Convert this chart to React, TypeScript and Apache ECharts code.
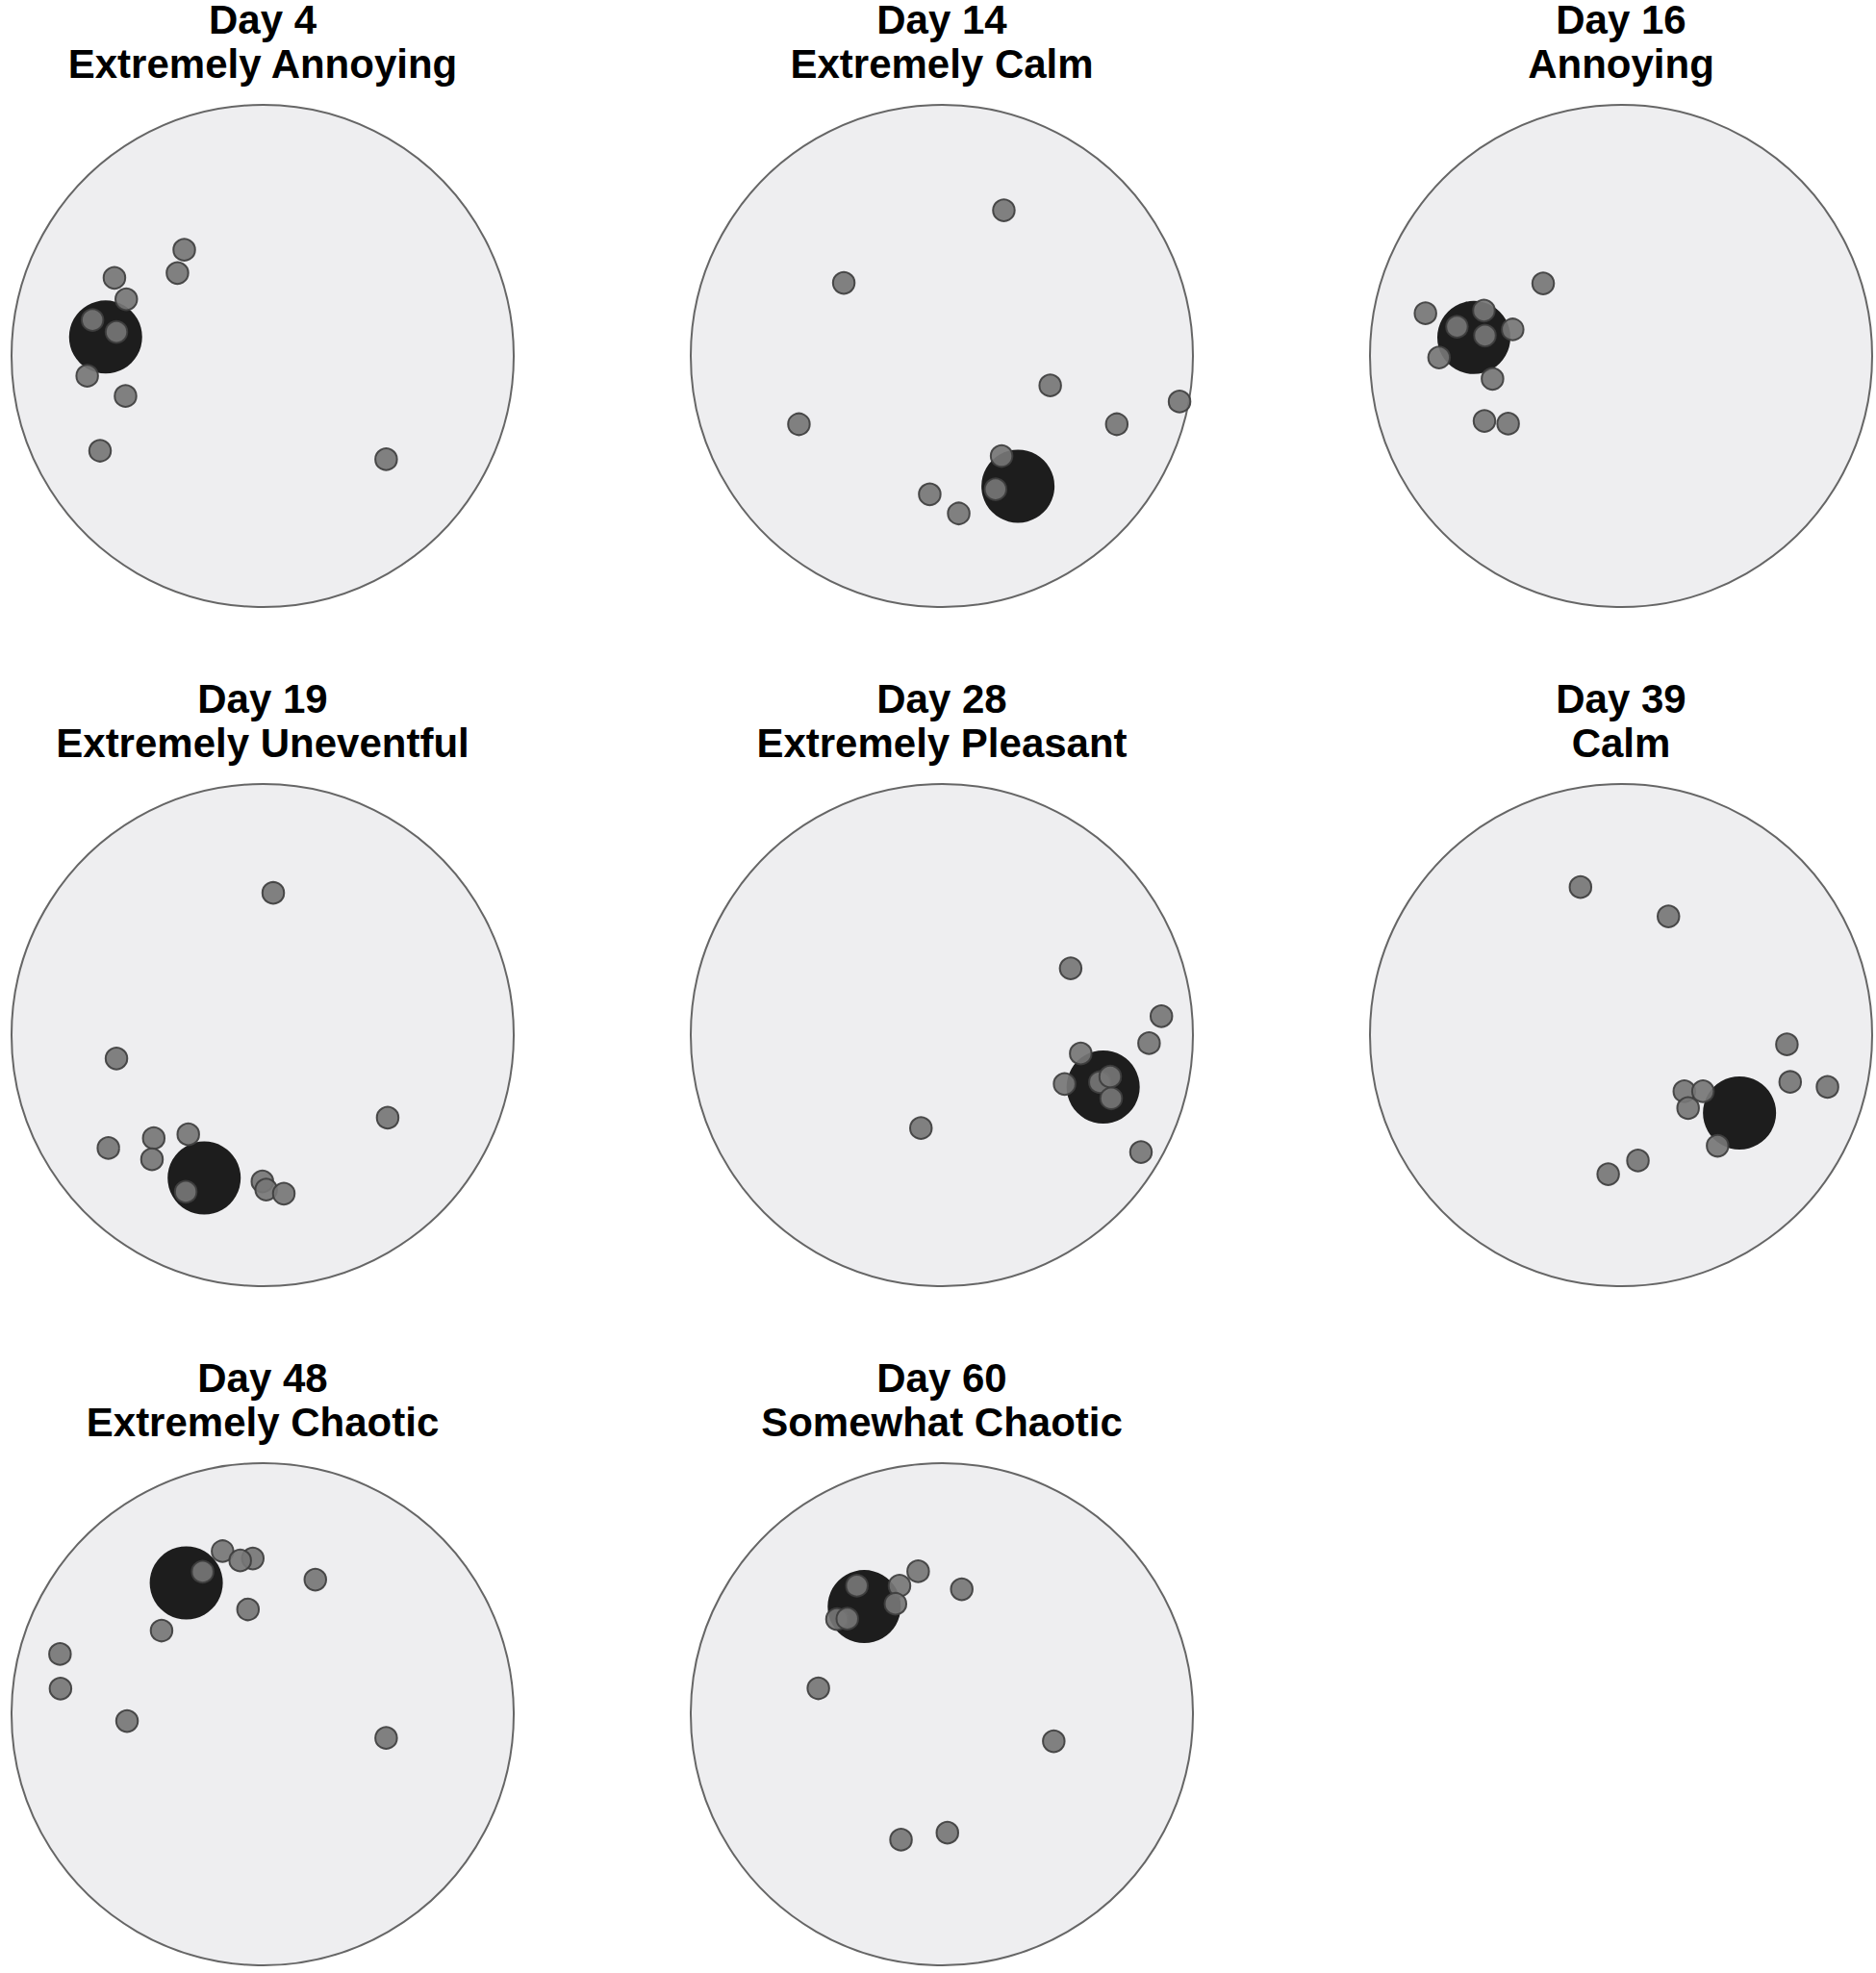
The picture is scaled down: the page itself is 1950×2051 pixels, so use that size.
import React, { useEffect, useRef } from "react";
import * as echarts from "echarts";

// ---- Data (normalized coordinates inside each unit circle: x right, y up) ----
const dayLabels = ["Day 4", "Day 14", "Day 16", "Day 19", "Day 28", "Day 39", "Day 48", "Day 60"];
const moodLabels = [
  "Extremely Annoying",
  "Extremely Calm",
  "Annoying",
  "Extremely Uneventful",
  "Extremely Pleasant",
  "Calm",
  "Extremely Chaotic",
  "Somewhat Chaotic",
];

// Large dark dot per panel (group centroid)
const centroids: [number, number][] = [
  [-0.623, 0.075],
  [0.302, -0.517],
  [-0.584, 0.073],
  [-0.232, -0.567],
  [0.64, -0.206],
  [0.47, -0.309],
  [-0.303, 0.521],
  [-0.308, 0.427],
];

const day4Points: [number, number][] = [
  [-0.588, 0.31], [-0.541, 0.225], [-0.675, 0.143], [-0.58, 0.095], [-0.696, -0.079],
  [-0.544, -0.159], [-0.645, -0.376], [-0.311, 0.421], [-0.338, 0.329], [0.49, -0.41],
];
const day14Points: [number, number][] = [
  [0.246, 0.578], [-0.389, 0.29], [0.43, -0.117], [0.943, -0.181], [-0.567, -0.271],
  [0.694, -0.271], [0.237, -0.397], [0.213, -0.529], [-0.048, -0.549], [0.067, -0.625],
];
const day16Points: [number, number][] = [
  [-0.309, 0.288], [-0.776, 0.169], [-0.544, 0.18], [-0.651, 0.116], [-0.54, 0.081],
  [-0.43, 0.105], [-0.722, -0.006], [-0.51, -0.091], [-0.542, -0.258], [-0.448, -0.269],
];
const day19Points: [number, number][] = [
  [0.042, 0.564], [-0.58, -0.093], [0.496, -0.328], [-0.432, -0.409], [-0.295, -0.394],
  [-0.612, -0.448], [-0.439, -0.493], [-0.305, -0.622], [-0.001, -0.581], [0.014, -0.613],
  [0.084, -0.629],
];
const day28Points: [number, number][] = [
  [0.511, 0.265], [0.871, 0.075], [0.822, -0.032], [0.551, -0.073], [0.487, -0.194],
  [0.627, -0.187], [0.668, -0.165], [0.672, -0.251], [-0.083, -0.369], [0.79, -0.464],
];
const day39Points: [number, number][] = [
  [-0.161, 0.587], [0.188, 0.471], [0.658, -0.037], [0.671, -0.186], [0.819, -0.206],
  [0.251, -0.223], [0.325, -0.223], [0.266, -0.29], [0.383, -0.439], [0.067, -0.498],
  [-0.051, -0.552],
];
const day48Points: [number, number][] = [
  [-0.238, 0.565], [-0.159, 0.647], [-0.039, 0.618], [-0.089, 0.61], [0.209, 0.534],
  [-0.058, 0.416], [-0.401, 0.332], [-0.804, 0.239], [-0.802, 0.102], [-0.538, -0.027],
  [0.49, -0.094],
];
const day60Points: [number, number][] = [
  [-0.337, 0.51], [-0.168, 0.51], [-0.094, 0.567], [-0.184, 0.438], [-0.416, 0.377],
  [-0.375, 0.379], [0.079, 0.496], [-0.49, 0.103], [0.444, -0.107], [-0.162, -0.498],
  [0.022, -0.47],
];

const panelPoints = [
  day4Points, day14Points, day16Points, day19Points,
  day28Points, day39Points, day48Points, day60Points,
];

// ---- Layout ----
const WIDTH = 1950;
const HEIGHT = 2051;
const COL_X = [273, 979, 1685];
const ROW_Y = [370, 1076, 1782];
const R = 262;
const FONT = '"Liberation Sans", Arial, Helvetica, sans-serif';

export default function App() {
  const ref = useRef<HTMLDivElement>(null);

  useEffect(() => {
    if (!ref.current) return;
    const chart = echarts.init(ref.current, undefined, { renderer: "svg" });

    const grids: any[] = [];
    const xAxes: any[] = [];
    const yAxes: any[] = [];
    const series: any[] = [];
    const graphics: any[] = [];

    dayLabels.forEach((day, i) => {
      const cx = COL_X[i % 3];
      const cy = ROW_Y[Math.floor(i / 3)];
      grids.push({ left: cx - R, top: cy - R, width: 2 * R, height: 2 * R, containLabel: false });
      xAxes.push({ type: "value", gridIndex: i, min: -1, max: 1, show: false });
      yAxes.push({ type: "value", gridIndex: i, min: -1, max: 1, show: false });

      series.push({
        type: "scatter",
        name: `${day} arena`,
        xAxisIndex: i,
        yAxisIndex: i,
        data: [[0, 0]],
        symbol: "circle",
        symbolSize: 2 * R - 2,
        silent: true,
        z: 1,
        itemStyle: { color: "#eeeef0", opacity: 1, borderColor: "#666666", borderWidth: 2 },
      });
      series.push({
        type: "scatter",
        name: `${day} centroid`,
        xAxisIndex: i,
        yAxisIndex: i,
        data: [centroids[i]],
        symbol: "circle",
        symbolSize: 76,
        z: 2,
        itemStyle: { color: "#1d1d1d", opacity: 1 },
      });
      series.push({
        type: "scatter",
        name: `${day} points`,
        xAxisIndex: i,
        yAxisIndex: i,
        data: panelPoints[i],
        symbol: "circle",
        symbolSize: 22.5,
        z: 3,
        itemStyle: { color: "#767676", opacity: 0.92, borderColor: "#3e3e3e", borderWidth: 2 },
      });

      graphics.push({
        type: "text",
        x: cx,
        y: cy - 350,
        style: {
          text: day,
          fontFamily: FONT,
          fontSize: 42,
          fontWeight: "bold",
          lineHeight: 32,
          fill: "#000000",
          align: "center",
          verticalAlign: "middle",
        },
      });
      graphics.push({
        type: "text",
        x: cx,
        y: cy - 304,
        style: {
          text: moodLabels[i],
          fontFamily: FONT,
          fontSize: 42,
          fontWeight: "bold",
          lineHeight: 32,
          fill: "#000000",
          align: "center",
          verticalAlign: "middle",
        },
      });
    });

    chart.setOption({
      animation: false,
      backgroundColor: "#ffffff",
      grid: grids,
      xAxis: xAxes,
      yAxis: yAxes,
      series,
      graphic: graphics,
    });

    return () => chart.dispose();
  }, []);

  return (
    <div
      ref={ref}
      style={{ position: "absolute", left: 0, top: 0, width: WIDTH, height: HEIGHT }}
    />
  );
}
